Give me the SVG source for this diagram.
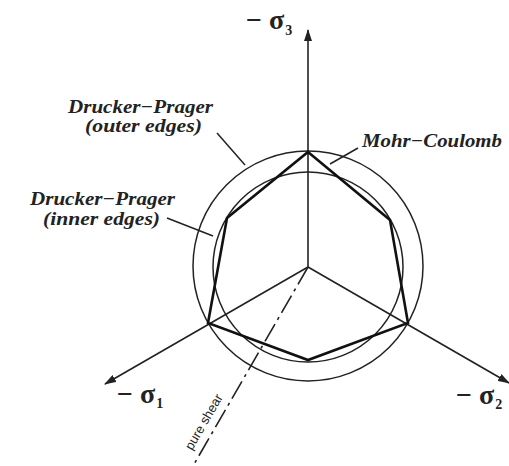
<svg xmlns="http://www.w3.org/2000/svg" width="509" height="466" viewBox="0 0 509 466">
<style>
.ax{stroke:#222;stroke-width:1.6;fill:none}
.circ{stroke:#222;stroke-width:1.5;fill:none}
.mc{stroke:#111;stroke-width:2.6;fill:none;stroke-linejoin:miter}
.lead{stroke:#222;stroke-width:1.5;fill:none}
.lbl{font-family:"Liberation Serif",serif;font-style:italic;font-weight:bold;font-size:19px;fill:#222}
.sig{font-family:"Liberation Serif",serif;font-weight:bold;font-size:28px;fill:#222}
.sub{font-family:"Liberation Serif",serif;font-size:14px;fill:#222}
.ps{font-family:"Liberation Sans",sans-serif;font-size:13px;fill:#222}
</style>
<defs>
<marker id="arr" viewBox="0 0 12 8" refX="11" refY="4" markerWidth="12" markerHeight="8" markerUnits="userSpaceOnUse" orient="auto">
<path d="M0,0 L12,4 L0,8 Z" fill="#222"/>
</marker>
</defs>
<g id="connectors">
<line class="ax" x1="308" y1="267" x2="308" y2="30" marker-end="url(#arr)"/>
<line class="ax" x1="308" y1="267" x2="105" y2="384" marker-end="url(#arr)"/>
<line class="ax" x1="308" y1="267" x2="509" y2="383" marker-end="url(#arr)"/>
<line class="ax" x1="308" y1="267" x2="193" y2="466" stroke-dasharray="20 5 3 5"/>
<line class="lead" x1="217" y1="133" x2="245" y2="165"/>
<line class="lead" x1="358" y1="148" x2="330" y2="164"/>
<line class="lead" x1="167" y1="218" x2="213" y2="236"/>
</g>
<g id="outer-circle"><circle class="circ" cx="308" cy="266" r="115"/></g>
<g id="inner-circle"><circle class="circ" cx="308" cy="267" r="95"/></g>
<g id="mohr-coulomb"><polygon class="mc" points="308,152 390,220 408,323 308,360 208,323 227,218"/></g>
<g id="label-s3"><text class="sig" x="246" y="29">− σ<tspan class="sub" dx="1" dy="6">3</tspan></text></g>
<g id="label-s1"><text class="sig" x="117" y="403">− σ<tspan class="sub" dx="1" dy="5">1</tspan></text></g>
<g id="label-s2"><text class="sig" x="456" y="404">− σ<tspan class="sub" dx="1" dy="5">2</tspan></text></g>
<g id="label-dp-outer">
<text class="lbl" x="68" y="113" textLength="145" lengthAdjust="spacingAndGlyphs">Drucker−Prager</text>
<text class="lbl" x="85" y="132" textLength="117" lengthAdjust="spacingAndGlyphs">(outer edges)</text>
</g>
<g id="label-mc"><text class="lbl" x="362" y="147" textLength="140" lengthAdjust="spacingAndGlyphs">Mohr−Coulomb</text></g>
<g id="label-dp-inner">
<text class="lbl" x="30" y="205" textLength="145" lengthAdjust="spacingAndGlyphs">Drucker−Prager</text>
<text class="lbl" x="43" y="225" textLength="117" lengthAdjust="spacingAndGlyphs">(inner edges)</text>
</g>
<g id="label-ps"><text class="ps" transform="translate(192,451) rotate(-60)">pure shear</text></g>
</svg>
